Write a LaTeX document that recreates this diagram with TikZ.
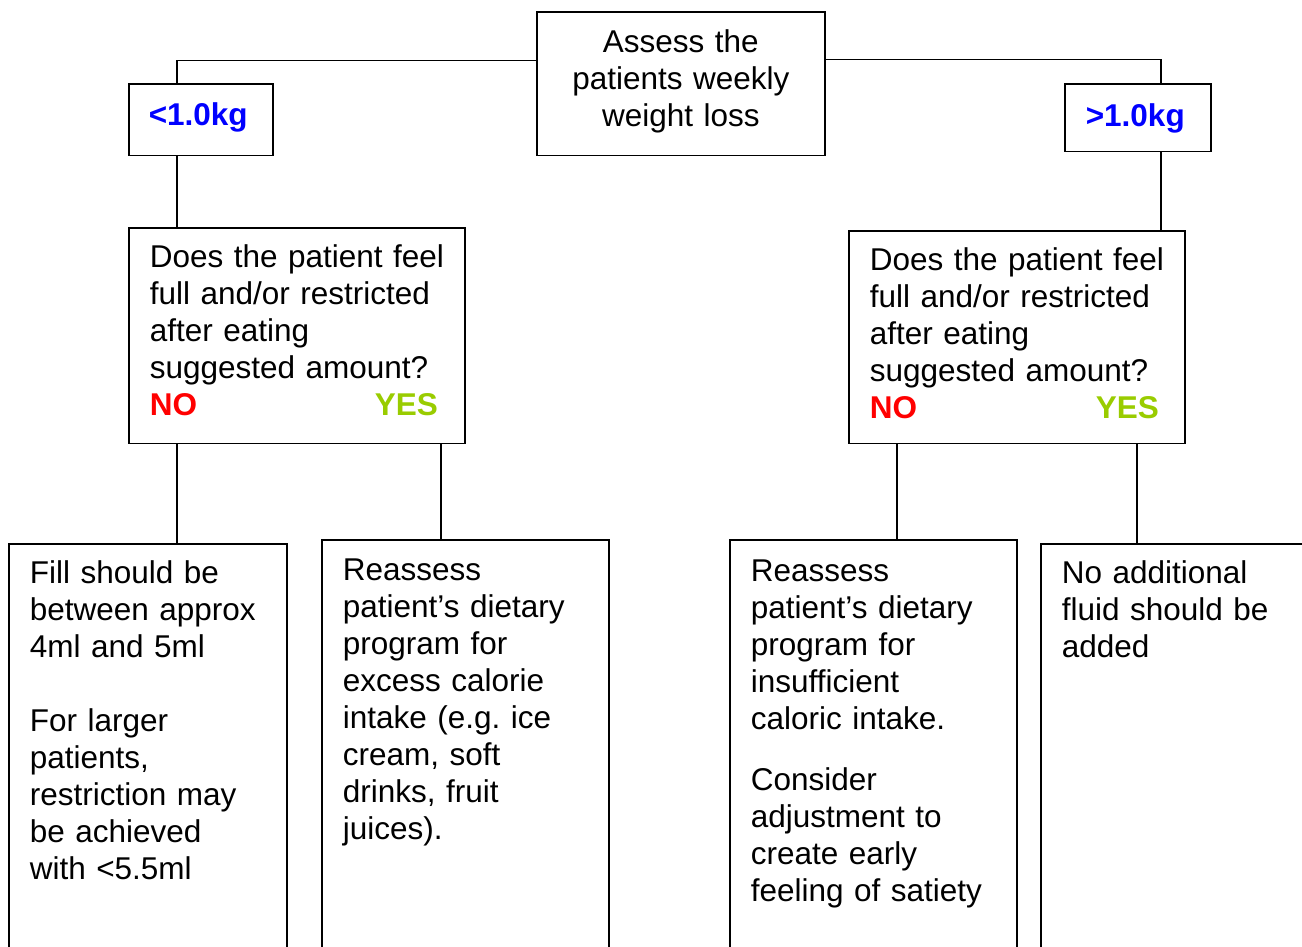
\documentclass[tikz,border=0pt]{standalone}
\usepackage{fontspec}
\setmainfont{Liberation Sans}
\usepackage{xcolor}
\definecolor{kgblue}{HTML}{0000FF}
\definecolor{nored}{HTML}{FF0000}
\definecolor{yesgreen}{HTML}{99CC00}
\usepackage{tikz}
\usetikzlibrary{positioning, calc}

\begin{document}
\begin{tikzpicture}[x=1pt, y=-1pt,
  box/.style={draw, line width=1.6pt, rectangle, anchor=north west, align=left,
    inner xsep=21pt, inner ysep=17pt, font=\fontsize{31.5}{37}\selectfont},
  kgbox/.style={box, font=\fontsize{31.5}{37}\selectfont\bfseries, text=kgblue, inner xsep=20pt},
  askbox/.style={box, text width=310pt, inner xsep=13pt},
  link/.style={line width=1.5pt}]
  \useasboundingbox (0,0) rectangle (1302,946);
  \clip (0,0) rectangle (1302,946);

  % Start
  \node[box, align=center, text width=250pt, inner xsep=19pt, inner ysep=18pt, text depth=85pt] (assess) at (536,11)
    {Assess the\\ patients weekly\\ weight loss};

  % Weight loss
  \node[kgbox, text width=104pt, inner ysep=19pt, text depth=11pt] (under) at (128,83) {<1.0kg};
  \node[kgbox, text width=104pt, inner xsep=21pt, inner ysep=20pt, text depth=5pt] (over) at (1064,83) {>1.0kg};

  % Questions
  \node[askbox, text depth=159pt] (askunder) at (128,227)
    {\leftskip=8pt Does the patient feel\\ full and/or restricted\\ after eating\\ suggested amount?\\
     \textbf{\textcolor{nored}{NO}}\hfill\textbf{\textcolor{yesgreen}{YES}}\hspace*{14pt}\par};
  \node[askbox, text depth=156pt] (askover) at (848,230)
    {\leftskip=8pt Does the patient feel\\ full and/or restricted\\ after eating\\ suggested amount?\\
     \textbf{\textcolor{nored}{NO}}\hfill\textbf{\textcolor{yesgreen}{YES}}\hspace*{13pt}\par};

  % Outcomes
  \node[box, text width=236pt, text depth=400pt] (fillnote) at (8,543)
    {Fill should be\\ between approx\\ 4ml and 5ml\\[37pt]
     For larger\\ patients,\\ restriction may\\ be achieved\\ with <5.5ml};
  \node[box, text width=245pt, inner ysep=19pt, text depth=400pt] (dietexcess) at (321,539)
    {Reassess\\ patient’s dietary\\ program for\\ excess calorie\\ intake (e.g.\ ice\\
     cream, soft\\ drinks, fruit\\ juices).};
  \node[box, text width=245pt, inner ysep=20pt, text depth=400pt] (dietshort) at (729,539)
    {Reassess\\ patient’s dietary\\ program for\\ insufficient\\ caloric intake.\\[24pt]
     Consider\\ adjustment to\\ create early\\ feeling of satiety};
  \node[box, text width=262pt, text depth=400pt] (nofluid) at (1040,543)
    {No additional\\ fluid should be\\ added};

  % Connectors
  \draw[link] ([yshift=23pt]assess.west) -| ([xshift=-24pt]under.north);
  \draw[link] ([yshift=24pt]assess.east) -| ([xshift=23pt]over.north);
  \draw[link] ([xshift=-24pt]under.south) -- ([xshift=-24pt]under.south |- askunder.north);
  \draw[link] ([xshift=23pt]over.south) -- ([xshift=23pt]over.south |- askover.north);
  \draw[link] ([xshift=-120pt]askunder.south) -- ([xshift=-120pt]askunder.south |- fillnote.north);
  \draw[link] ([xshift=144pt]askunder.south) -- ([xshift=144pt]askunder.south |- dietexcess.north);
  \draw[link] ([xshift=-120pt]askover.south) -- ([xshift=-120pt]askover.south |- dietshort.north);
  \draw[link] ([xshift=120pt]askover.south) -- ([xshift=120pt]askover.south |- nofluid.north);
\end{tikzpicture}
\end{document}
